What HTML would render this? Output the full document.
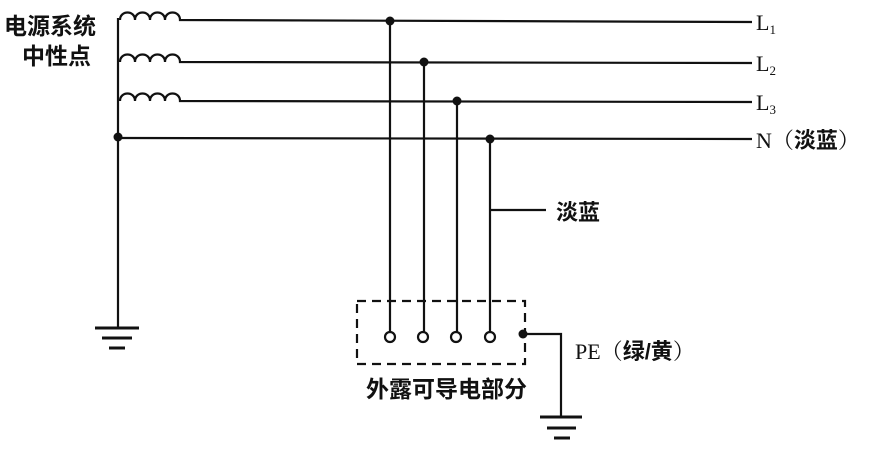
<!DOCTYPE html>
<html><head><meta charset="utf-8"><style>
body{margin:0;background:#fff;}
svg{display:block}
text{font-family:"Liberation Serif","Noto Serif CJK SC",serif;fill:#111;}
.c{font-family:"Liberation Sans","Noto Sans CJK SC",sans-serif;font-weight:bold;}
</style></head><body>
<svg width="870" height="455" viewBox="0 0 870 455" xmlns="http://www.w3.org/2000/svg">
<g stroke="#111" stroke-width="2.2" fill="none">
<line x1="118" y1="18" x2="118" y2="328"/>
<path d="M120 20 c0 -10 15 -10 15 0 c0 -10 15 -10 15 0 c0 -10 15 -10 15 0 c0 -10 15 -10 15 0 L752 22"/>
<path d="M120 62 c0 -10 15 -10 15 0 c0 -10 15 -10 15 0 c0 -10 15 -10 15 0 c0 -10 15 -10 15 0 L752 63"/>
<path d="M120 101 c0 -10 15 -10 15 0 c0 -10 15 -10 15 0 c0 -10 15 -10 15 0 c0 -10 15 -10 15 0 L752 102"/>
<line x1="118" y1="138" x2="752" y2="139"/>
<line x1="95" y1="328" x2="139" y2="328" stroke-width="3"/>
<line x1="102" y1="338" x2="132" y2="338" stroke-width="3"/>
<line x1="109" y1="348" x2="125" y2="348" stroke-width="3"/>
<line x1="390" y1="21" x2="390" y2="332"/>
<line x1="424" y1="62" x2="424" y2="332"/>
<line x1="457" y1="101" x2="457" y2="332"/>
<line x1="490" y1="139" x2="490" y2="332"/>
<line x1="490" y1="210" x2="546" y2="210"/>
<rect x="357" y="301" width="168" height="63" stroke-dasharray="9,6"/>
<circle cx="390" cy="337" r="5" fill="#fff"/>
<circle cx="423" cy="337" r="5" fill="#fff"/>
<circle cx="456" cy="337" r="5" fill="#fff"/>
<circle cx="490" cy="337" r="5" fill="#fff"/>
<polyline points="524,334 561,334 561,417"/>
<line x1="540" y1="417" x2="582" y2="417" stroke-width="3"/>
<line x1="547" y1="428" x2="576" y2="428" stroke-width="3"/>
<line x1="554" y1="438" x2="570" y2="438" stroke-width="3"/>
</g>
<g fill="#111">
<circle cx="118" cy="137" r="4.5"/>
<circle cx="390" cy="21" r="4.5"/>
<circle cx="424" cy="62" r="4.5"/>
<circle cx="457" cy="101" r="4.5"/>
<circle cx="490" cy="139" r="4.5"/>
<circle cx="523" cy="334" r="4.5"/>
</g>
<text x="4" y="34" class="c" font-size="23">电源系统</text>
<text x="22" y="64" class="c" font-size="23">中性点</text>
<text x="756" y="30" font-size="22">L<tspan font-size="13" dy="4">1</tspan></text>
<text x="756" y="71" font-size="22">L<tspan font-size="13" dy="4">2</tspan></text>
<text x="756" y="110" font-size="22">L<tspan font-size="13" dy="4">3</tspan></text>
<text x="756" y="148" font-size="22">N（<tspan class="c">淡蓝</tspan>）</text>
<text x="556" y="220" class="c" font-size="22">淡蓝</text>
<text x="575" y="359" font-size="22">PE（<tspan class="c">绿/黄</tspan>）</text>
<text x="366" y="397" class="c" font-size="23">外露可导电部分</text>
</svg>
</body></html>
